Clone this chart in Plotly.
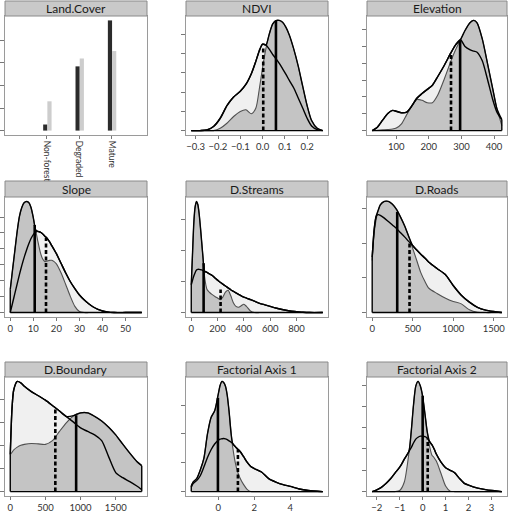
import plotly.graph_objects as go
import numpy as np

W, H = 510, 512
FONT = "Lato"

# ---------------- data ----------------
land_cats = ["Non-forest", "Degraded", "Mature"]
land_pos = [1, 2, 3]
land_dark = [0.27, 2.85, 4.89]
land_light = [1.3, 3.2, 3.53]
land_yticks = [0, 1, 2, 3, 4]

ndvi_x = [-0.32, -0.28, -0.25, -0.22, -0.19, -0.16, -0.13, -0.10, -0.075, -0.05, -0.03, -0.015, 0.0, 0.015,
          0.03, 0.045, 0.06, 0.075, 0.09, 0.105, 0.12, 0.14, 0.16, 0.18, 0.20, 0.22, 0.245, 0.27]
ndvi_dark = [0, 0, 0, 0.0, 0.12, 0.38, 0.73, 0.99, 1.08, 0.87, 1.17, 2.13, 3.26, 4.25,
             5.0, 5.52, 5.7, 5.71, 5.61, 5.35, 4.95, 4.22, 3.34, 2.3, 1.29, 0.52, 0.12, 0]
ndvi_light = [0, 0, 0.03, 0.21, 0.64, 1.29, 1.74, 2.04, 2.39, 2.96, 3.6, 4.13, 4.48, 4.43,
              4.22, 3.95, 3.73, 3.48, 3.2, 2.91, 2.6, 2.21, 1.69, 1.17, 0.64, 0.24, 0.05, 0]
ndvi_med = [0.06, 0.003]
ndvi_medh = [5.7, 4.39]
ndvi_xticks = [-0.3, -0.2, -0.1, 0.0, 0.1, 0.2]
ndvi_yticks = [0, 1, 2, 3, 4, 5]

elev_x = [26, 42, 58, 74, 89, 100, 116, 132, 148, 163, 179, 195, 211, 227, 248, 267, 282, 297, 311,
          327, 338, 348, 364, 380, 396, 409, 424]
elev_dark = [0, 0.02, 0.04, 0.06, 0.09, 0.15, 0.4, 0.95, 1.45, 1.85, 1.8, 1.66, 1.66, 2.1, 3.1, 4.1,
             4.8, 5.4, 5.95, 6.43, 6.55, 6.4, 5.45, 4.0, 2.5, 1.3, 0.3]
elev_light = [0, 0.2, 0.62, 1.02, 1.2, 1.15, 1.06, 1.1, 1.48, 1.92, 2.2, 2.45, 2.7, 3.2, 3.9, 4.6,
              5.1, 5.4, 5.0, 4.8, 4.72, 4.66, 4.15, 3.05, 1.85, 1.1, 0.65]
elev_med = [296, 268]
elev_medh = [5.35, 4.5]
elev_xticks = [100, 200, 300, 400]
elev_yticks = [0, 1, 2, 3, 4, 5, 6]

slope_x = [0, 1, 2, 3, 4, 5, 6, 7, 8, 9, 10, 11, 12, 13, 14, 15, 16, 17, 18, 19, 20,
           22, 24, 26, 28, 30, 32, 34, 36, 38, 40, 42, 45, 50, 57]
slope_dark = [1.45, 2.7, 3.9, 5.1, 6.06, 6.6, 6.9, 6.98, 6.92, 6.6, 5.95, 5.2, 4.45, 3.8, 3.38, 3.2,
              3.23, 3.28, 3.28, 3.2, 3.06,
              2.5, 1.78, 1.03, 0.39, 0.06, 0, 0, 0, 0, 0, 0, 0, 0, 0]
slope_light = [0, 0.6, 1.2, 1.8, 2.4, 2.95, 3.45, 3.9, 4.3, 4.65, 4.9, 5.05, 5.1, 5.05, 4.95, 4.8,
               4.65, 4.45, 4.2, 3.95, 3.7,
               3.1, 2.5, 1.95, 1.5, 1.1, 0.8, 0.55, 0.35, 0.2, 0.1, 0.04, 0, 0, 0]
slope_med = [10.6, 15.5]
slope_medh = [5.5, 4.7]
slope_xticks = [0, 10, 20, 30, 40, 50]
slope_yticks = [0, 1, 2, 3, 4, 5, 6]

ds_x = [0, 10, 20, 30, 40, 50, 60, 70, 80, 90, 100,
        120, 140, 160, 180, 200, 220, 240, 260, 280, 300, 320, 340, 360, 380, 400, 420,
        450, 480, 520, 560, 600, 650, 700, 750, 800, 850, 900, 1000]
ds_dark = [0.9, 1.95, 2.95, 3.44, 3.6, 3.5, 3.2, 2.75, 2.25, 1.75, 1.2,
           0.75, 0.65, 0.58, 0.52, 0.47, 0.42, 0.5, 0.66, 0.72, 0.55, 0.32, 0.2, 0.17, 0.22, 0.27, 0.2,
           0.05, 0, 0, 0, 0, 0, 0, 0, 0, 0, 0, 0]
ds_light = [0.9, 1.05, 1.19, 1.3, 1.38, 1.4, 1.4, 1.39, 1.38, 1.36, 1.34,
            1.3, 1.25, 1.2, 1.12, 1.05, 0.98, 0.92, 0.86, 0.8, 0.74, 0.69, 0.64, 0.59, 0.54, 0.5, 0.47,
            0.42, 0.37, 0.3, 0.25, 0.2, 0.14, 0.09, 0.05, 0.03, 0.01, 0, 0]
ds_med = [94, 223]
ds_medh = [1.6, 0.75]
ds_xticks = [0, 200, 400, 600, 800]
ds_yticks = [0, 1, 2, 3]

dr_x = [0, 25, 50, 75, 100, 150, 200, 250, 300, 350, 400, 450, 500, 550, 600, 650, 700, 800, 900,
        1000, 1100, 1200, 1300, 1400, 1500, 1600]
dr_dark = [1.5, 2.3, 2.7, 2.95, 3.1, 3.2, 3.2, 3.12, 2.97, 2.75, 2.5, 2.2, 1.85, 1.5, 1.15, 0.9, 0.7,
           0.55, 0.42, 0.32, 0.25, 0.08, 0.01, 0, 0, 0]
dr_light = [1.6, 2.4, 2.78, 2.82, 2.8, 2.72, 2.62, 2.52, 2.42, 2.3, 2.18, 2.05, 1.93, 1.8, 1.68, 1.57,
            1.45, 1.27, 1.1, 0.78, 0.5, 0.3, 0.15, 0.07, 0.03, 0]
dr_med = [309, 461]
dr_medh = [2.9, 2.04]
dr_xticks = [0, 500, 1000, 1500]
dr_yticks = [0, 1, 2, 3]

db_x = [0, 25, 50, 100, 150, 200, 300, 400, 500, 600, 700, 800, 900, 1000, 1100, 1200, 1300, 1400,
        1500, 1600, 1700, 1800, 1870]
db_dark = [1.6, 1.7, 1.8, 1.92, 2.0, 2.04, 2.08, 2.06, 2.04, 2.2, 2.6, 2.98, 3.28, 3.4, 3.4, 3.25,
           3.05, 2.78, 2.45, 2.05, 1.66, 1.3, 1.12]
db_light = [1.6, 3.6, 4.4, 4.76, 4.7, 4.55, 4.32, 4.14, 3.95, 3.72, 3.48, 3.24, 3.0, 2.75, 2.6, 2.45,
            2.2, 1.5, 0.82, 0.6, 0.43, 0.24, 0.08]
db_med = [937, 641]
db_medh = [3.3, 3.55]
db_xticks = [0, 500, 1000, 1500]
db_yticks = [0, 1, 2, 3, 4]

fa1_x = [-1.5, -1.4, -1.2, -1.0, -0.8, -0.6, -0.4, -0.2, 0.0, 0.1, 0.2, 0.3, 0.4, 0.5, 0.6, 0.8,
         1.0, 1.2, 1.4, 1.6, 1.8, 2.0, 2.4, 2.8, 3.2, 3.6, 4.0, 4.5, 5.0, 5.8]
fa1_dark = [0.2, 0.33, 0.45, 0.75, 1.15, 2.0, 2.57, 2.8, 3.38, 3.68, 3.82, 3.78, 3.65, 3.33, 2.78,
            1.55, 0.85, 0.48, 0.25, 0.08, 0, 0, 0, 0, 0, 0, 0, 0, 0, 0]
fa1_light = [0.15, 0.28, 0.38, 0.55, 0.85, 1.18, 1.45, 1.65, 1.78, 1.82, 1.83, 1.84, 1.83, 1.8, 1.76,
             1.67, 1.52, 1.4, 1.22, 1.02, 0.87, 0.8, 0.68, 0.45, 0.33, 0.24, 0.18, 0.09, 0.04, 0]
fa1_med = [-0.02, 1.09]
fa1_medh = [3.25, 1.47]
fa1_xticks = [0, 2, 4]
fa1_yticks = [0, 1, 2, 3]

fa2_x = [-2.2, -2.0, -1.8, -1.6, -1.4, -1.2, -1.0, -0.8, -0.6, -0.5, -0.4, -0.3, -0.2, -0.1, 0.0,
         0.1, 0.2, 0.3, 0.4, 0.5, 0.6, 0.8, 1.0, 1.2, 1.4, 1.6, 1.8, 2.0, 2.4, 2.8, 3.2, 3.45]
fa2_dark = [0, 0, 0, 0, 0, 0, 0.05, 0.45, 1.8, 2.8, 4.05, 4.95, 5.17, 4.95, 4.46, 3.65, 2.8, 2.15,
            1.72, 1.59, 1.42, 0.85, 0.26, 0.02, 0, 0, 0, 0, 0, 0, 0, 0]
fa2_light = [0, 0.08, 0.2, 0.38, 0.6, 0.88, 1.15, 1.52, 1.88, 2.06, 2.28, 2.46, 2.55, 2.6, 2.6, 2.58,
             2.52, 2.35, 2.2, 2.0, 1.75, 1.38, 1.12, 1.0, 0.88, 0.62, 0.4, 0.3, 0.16, 0.08, 0.03, 0]
fa2_med = [0.0, 0.22]
fa2_medh = [4.5, 2.5]
fa2_xticks = [-2, -1, 0, 1, 2, 3]
fa2_yticks = [0, 1, 2, 3, 4, 5]

titles = ["Land.Cover", "NDVI", "Elevation", "Slope", "D.Streams", "D.Roads",
          "D.Boundary", "Factorial Axis 1", "Factorial Axis 2"]

panels = [
    None,
    dict(x=ndvi_x, d=ndvi_dark, l=ndvi_light, m=ndvi_med, mh=ndvi_medh, xt=ndvi_xticks, yt=ndvi_yticks, f="{:.1f}"),
    dict(x=elev_x, d=elev_dark, l=elev_light, m=elev_med, mh=elev_medh, xt=elev_xticks, yt=elev_yticks, f="{:g}"),
    dict(x=slope_x, d=slope_dark, l=slope_light, m=slope_med, mh=slope_medh, xt=slope_xticks, yt=slope_yticks, f="{:g}"),
    dict(x=ds_x, d=ds_dark, l=ds_light, m=ds_med, mh=ds_medh, xt=ds_xticks, yt=ds_yticks, f="{:g}"),
    dict(x=dr_x, d=dr_dark, l=dr_light, m=dr_med, mh=dr_medh, xt=dr_xticks, yt=dr_yticks, f="{:g}"),
    dict(x=db_x, d=db_dark, l=db_light, m=db_med, mh=db_medh, xt=db_xticks, yt=db_yticks, f="{:g}"),
    dict(x=fa1_x, d=fa1_dark, l=fa1_light, m=fa1_med, mh=fa1_medh, xt=fa1_xticks, yt=fa1_yticks, f="{:g}"),
    dict(x=fa2_x, d=fa2_dark, l=fa2_light, m=fa2_med, mh=fa2_medh, xt=fa2_xticks, yt=fa2_yticks, f="{:g}"),
]

# ---------------- layout geometry (pixels) ----------------
col_px = [(5, 147), (186, 328), (367, 507)]
row_px = [(1, 16, 135), (181, 197, 317), (362, 377, 496)]  # strip top, plot top, plot bottom

DARK_FILL = "#c4c4c4"
LIGHT_FILL = "#f0f0f0"
SPL = dict(shape="spline", smoothing=0.7)

fig = go.Figure()
layout = dict(width=W, height=H, margin=dict(l=0, r=0, t=0, b=0),
              paper_bgcolor="white", plot_bgcolor="white", showlegend=False,
              hovermode=False, font=dict(family=FONT, size=10, color="#333"))
shapes, annotations = [], []

def axbase():
    return dict(showline=True, mirror=True, linecolor="#9a9a9a", linewidth=1,
                ticks="outside", ticklen=3, tickcolor="#777", tickwidth=1,
                showgrid=False, zeroline=False, automargin=False, fixedrange=True,
                tickfont=dict(family=FONT, size=9.5, color="#333"))

def fmt(v, f):
    return f.format(v).replace("-", "\u2212")

for i in range(9):
    r, c = divmod(i, 3)
    x0p, x1p = col_px[c]
    st, pt, pb = row_px[r]
    xd = [x0p / W, x1p / W]
    yd = [1 - pb / H, 1 - pt / H]
    sd = [1 - pt / H, 1 - st / H]
    k = "" if i == 0 else str(i + 1)
    xa, ya = "x" + k, "y" + k
    xax = axbase()
    yax = axbase()
    xax.update(domain=xd, anchor=ya)
    yax.update(domain=yd, anchor=xa, showticklabels=False, ticklen=4)

    if i == 0:
        fig.add_trace(go.Bar(x=land_pos, y=land_dark, width=0.13, offset=-0.11,
                             marker=dict(color="#2b2b2b", line=dict(width=0)), xaxis=xa, yaxis=ya))
        fig.add_trace(go.Bar(x=land_pos, y=land_light, width=0.13, offset=0.02,
                             marker=dict(color="#cdcdcd", line=dict(width=0)), xaxis=xa, yaxis=ya))
        ymax = max(land_dark + land_light)
        xax.update(range=[-0.29, 4.1], tickvals=land_pos, ticktext=land_cats, tickangle=90,
                   tickfont=dict(family=FONT, size=8.5, color="#333"))
        yax.update(range=[-0.04 * ymax, 1.04 * ymax], tickvals=land_yticks)
    else:
        p = panels[i]
        xs = np.array(p["x"], dtype=float)
        d = np.array(p["d"], dtype=float)
        l = np.array(p["l"], dtype=float)
        env = np.maximum(d, l)
        common = dict(xaxis=xa, yaxis=ya, mode="lines")
        fig.add_trace(go.Scatter(x=xs, y=l, fill="tozeroy", fillcolor=LIGHT_FILL,
                                 line=dict(width=0, **SPL), **common))
        fig.add_trace(go.Scatter(x=xs, y=d, fill="tozeroy", fillcolor=DARK_FILL,
                                 line=dict(width=0, **SPL), **common))
        fig.add_trace(go.Scatter(x=xs, y=d, line=dict(color="#505050", width=1.1, **SPL), **common))
        fig.add_trace(go.Scatter(x=xs, y=l, line=dict(color="black", width=1.4, **SPL), **common))
        fig.add_trace(go.Scatter(x=xs, y=env, line=dict(color="black", width=1.4, **SPL), **common))
        fig.add_trace(go.Scatter(x=[xs[0], xs[0], None, xs[-1], xs[-1], None, xs[0], xs[-1]],
                                 y=[0, env[0], None, 0, env[-1], None, 0, 0],
                                 line=dict(color="black", width=1.4), **common))
        fig.add_trace(go.Scatter(x=[p["m"][0], p["m"][0]], y=[0, p["mh"][0]],
                                 line=dict(color="black", width=2.6), **common))
        fig.add_trace(go.Scatter(x=[p["m"][1], p["m"][1]], y=[0, p["mh"][1]],
                                 line=dict(color="black", width=2.6, dash="4px,2.5px"), **common))
        span = xs.max() - xs.min()
        ymax = env.max()
        xax.update(range=[xs.min() - 0.04 * span, xs.max() + 0.04 * span],
                   tickvals=p["xt"], ticktext=[fmt(v, p["f"]) for v in p["xt"]])
        yax.update(range=[-0.04 * ymax, 1.04 * ymax], tickvals=p["yt"])

    layout["xaxis" + k] = xax
    layout["yaxis" + k] = yax
    shapes.append(dict(type="rect", xref="paper", yref="paper", x0=xd[0], x1=xd[1],
                       y0=sd[0], y1=sd[1], fillcolor="#c9c9c9",
                       line=dict(color="#8a8a8a", width=1), layer="above"))
    annotations.append(dict(text=titles[i], xref="paper", yref="paper",
                            x=(xd[0] + xd[1]) / 2, y=(sd[0] + sd[1]) / 2,
                            xanchor="center", yanchor="middle", showarrow=False,
                            font=dict(family=FONT, size=12, color="#1a1a1a")))

layout["shapes"] = shapes
layout["annotations"] = annotations
fig.update_layout(**layout)
fig.write_html("out.html", config={"displayModeBar": False},
               post_script="document.body.style.margin='0';document.body.style.padding='0';")
